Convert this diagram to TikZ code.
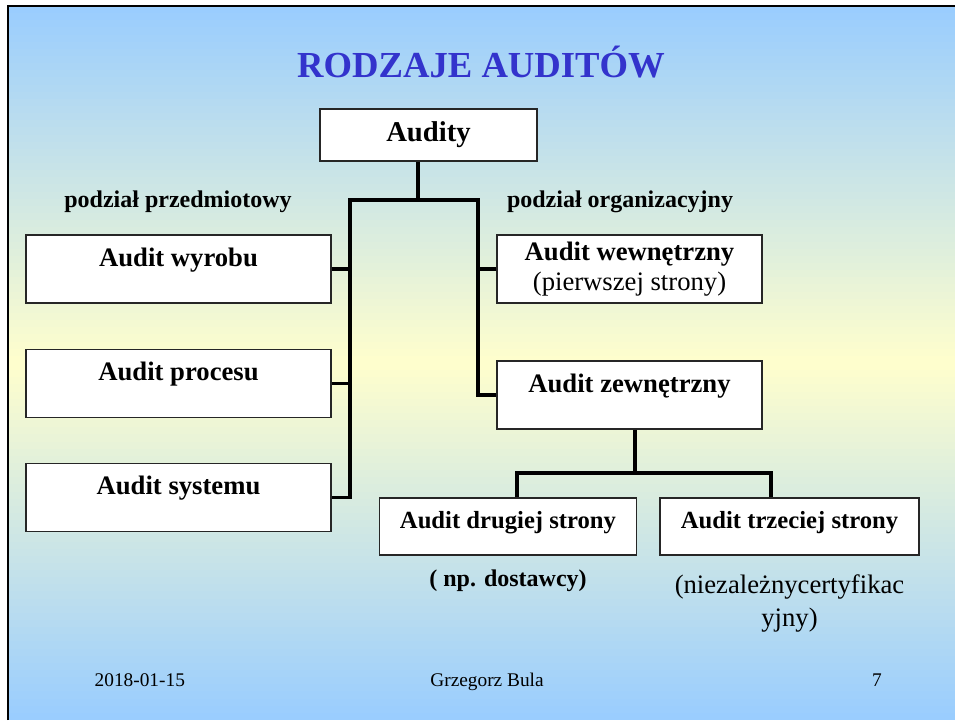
\documentclass[tikz,border=0pt]{standalone}
\usepackage{fontspec}
\setmainfont{Liberation Serif}

\definecolor{slideblue}{RGB}{153,204,255}
\definecolor{slideyellow}{RGB}{255,255,204}
\definecolor{titleblue}{RGB}{51,51,204}

\begin{document}
\begin{tikzpicture}[x=0.75pt, y=-0.75pt,
  box/.style={draw=black!85, line width=0.8pt, fill=white, inner sep=0pt, align=center},
  wide/.style={box, minimum width=305*0.75pt, minimum height=68*0.75pt,
    font=\fontsize{20pt}{23pt}\selectfont\bfseries, text height=14pt, text depth=18.5pt},
  orgbox/.style={box, minimum width=265*0.75pt, minimum height=68*0.75pt,
    font=\fontsize{20pt}{23pt}\selectfont\bfseries},
  party/.style={box, minimum width=257*0.75pt, minimum height=57*0.75pt,
    font=\fontsize{18.5pt}{22pt}\selectfont\bfseries, text height=13pt, text depth=10.75pt},
  bus/.style={line width=2.3pt},
  label/.style={anchor=base, font=\fontsize{18pt}{22pt}\selectfont\bfseries},
  foot/.style={anchor=base, font=\fontsize{14.5pt}{17pt}\selectfont}]

% Slide background (blue - yellow - blue, in strips)
\useasboundingbox (0,0) rectangle (955,720);
\fill[white] (0,0) rectangle (955,720);
\foreach \i in {0,...,99} {
  \pgfmathsetmacro{\ytop}{6+\i*7.14}
  \pgfmathsetmacro{\mix}{100*(1-abs(\ytop+3.57-363)/357)}
  \fill[slideyellow!\mix!slideblue] (8,\ytop) rectangle (955,\ytop+7.6);
}
\draw[line width=1.5pt] (8,720) -- (8,6) -- (955,6);

% Title
\node[anchor=base, text=titleblue, font=\fontsize{27.5pt}{33pt}\selectfont\bfseries]
  (title) at (481,78) {RODZAJE AUDITÓW};

% Root
\node[box, minimum width=217*0.75pt, minimum height=52*0.75pt,
  font=\fontsize{21.5pt}{26pt}\selectfont\bfseries] (audity) at (428.5,135) {Audity};

% Division labels
\node[label] (przedm) at (178,208) {podział przedmiotowy};
\node[label] (organiz) at (620,208) {podział organizacyjny};

% Left column
\node[wide] (wyrob) at (178.5,269) {Audit wyrobu};
\node[wide] (proces) at (178.5,383.5) {Audit procesu};
\node[wide] (system) at (178.5,497.5) {Audit systemu};

% Right column
\node[orgbox] (wew) at (629.5,269) {Audit wewnętrzny\\\mdseries(pierwszej strony)};
\node[orgbox, text height=14pt, text depth=18.5pt] (zew) at (629.5,395) {Audit zewnętrzny};

% Second and third party
\node[party] (druga) at (508,526.5) {Audit drugiej strony};
\node[party, minimum width=259*0.75pt] (trzecia) at (789.5,526.5) {Audit trzeciej strony};
\node[label, anchor=base] (dostawcy) at ([yshift=-23.25pt]druga.south) {( np. dostawcy)};
\node[anchor=base, align=center, font=\fontsize{20pt}{24.5pt}\selectfont]
  (niezal) at ([yshift=-53pt]trzecia.south) {(niezależnycertyfikac\\yjny)};

% Junctions
\coordinate (hub) at (418,200);
\coordinate (lt) at (350,200);
\coordinate (rt) at (478,200);
\coordinate (zj) at (635,473);
\coordinate (dl) at (517,473);
\coordinate (dr) at (771,473);

% Connectors
\draw[bus] (audity.south -| hub) -- (hub);
\draw[bus] (system.east) -- (system.east -| lt) -- (lt) -- (rt) -- (rt |- zew.west) -- (zew.west);
\draw[bus] (wyrob.east) -- (wyrob.east -| lt);
\draw[bus] (proces.east) -- (proces.east -| lt);
\draw[bus] (wew.west) -- (wew.west -| rt);
\draw[bus] (zew.south -| zj) -- (zj);
\draw[bus] (dl |- druga.north) -- (dl) -- (dr) -- (dr |- trzecia.north);

% Footer
\node[foot, anchor=base west] (date) at (90,686) {2018-01-15};
\node[foot] (author) at (487,686) {Grzegorz Bula};
\node[foot] (page) at (877,686) {7};

\end{tikzpicture}
\end{document}
